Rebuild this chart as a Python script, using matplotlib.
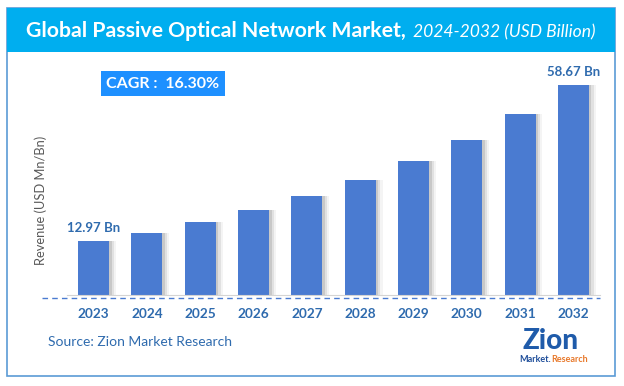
import numpy as np
import matplotlib
matplotlib.use("Agg")
import matplotlib.pyplot as plt
from matplotlib.patches import Rectangle
from matplotlib.lines import Line2D

years = ["2023", "2024", "2025", "2026", "2027", "2028", "2029", "2030", "2031", "2032"]
revenue = [12.97, 15.3, 18.5, 22.0, 26.1, 30.8, 36.4, 42.6, 50.2, 58.67]
labelled = {0: "12.97 Bn", 9: "58.67 Bn"}
cagr_text = "CAGR :  16.30%"

BAR = "#4A7BD1"
TXT = "#2F6BAE"
CYAN = "#00AEEF"
BORDER = "#5B9BD5"
FONT = "Lato"

W, H = 624, 386
fig = plt.figure(figsize=(W / 100, H / 100), dpi=100)


def fx(px):
    return px / W


def fy(py):
    return 1 - py / H


# frame + title band
fig.add_artist(Rectangle((fx(7), fy(376)), fx(608), (376 - 8) / H, transform=fig.transFigure,
                         facecolor="white", edgecolor=BORDER, lw=1.2, zorder=-10))
fig.add_artist(Rectangle((fx(7), fy(52)), fx(608), (52 - 8) / H, transform=fig.transFigure,
                         facecolor=CYAN, edgecolor="none", zorder=-9))
fig.text(fx(406), fy(31), "Global Passive Optical Network Market,", color="white", fontsize=15.3,
         fontweight="bold", family=FONT, ha="right", va="center")
fig.text(fx(413), fy(32), "2024-2032 (USD Billion)", color="white", fontsize=12.6,
         style="italic", family=FONT, ha="left", va="center")

# plot area
ymin, ymax = -2.85, 66.0
ax = fig.add_axes([fx(67), fy(295), fx(600 - 67), (295 - 60) / H])
x = np.arange(len(years))
heights = [v - ymin for v in revenue]
# soft drop shadow to the right of each bar
for off, a in [(0.05, 0.35), (0.09, 0.2), (0.13, 0.1)]:
    ax.bar(x + off, heights, 0.58, bottom=ymin, color="#9a9a9a", alpha=a, lw=0, zorder=1)
ax.bar(x, heights, 0.58, bottom=ymin, color=BAR, zorder=2)
for i, lab in labelled.items():
    ax.annotate(lab, (x[i], revenue[i]), xytext=(0, 5), textcoords="offset points",
                ha="center", va="bottom", color=TXT, fontsize=9.5, fontweight="bold", family=FONT)
ax.set_xlim(-0.5, len(years) - 0.5)
ax.set_ylim(ymin, ymax)
ax.set_xticks(x)
ax.set_xticklabels(years, color=TXT, fontsize=9.8, fontweight="bold", family=FONT)
ax.tick_params(axis="x", length=0, pad=9)
ax.set_yticks([])
for s in ["top", "right", "left"]:
    ax.spines[s].set_visible(False)
ax.spines["bottom"].set_color("#d4d4d4")
ax.patch.set_alpha(0)

fig.add_artist(Line2D([fx(42), fx(600)], [fy(298), fy(298)], transform=fig.transFigure,
                      color=BAR, lw=1, ls=(0, (4, 3))))

fig.text(fx(41), fy(200), "Revenue (USD Mn/Bn)", rotation=90, color="#595959", fontsize=9.3,
         family=FONT, ha="center", va="center")

# CAGR box
fig.text(fx(163), fy(83.5), cagr_text, color="white", fontsize=11.5, fontweight="bold", family=FONT,
         ha="center", va="center",
         bbox=dict(boxstyle="square,pad=0.35", facecolor="#1E90FF", edgecolor="none"))

fig.text(fx(48), fy(342), "Source: Zion Market Research", color=TXT, fontsize=10,
         family=FONT, ha="left", va="center")

# logo
fig.text(fx(551), fy(341), "Zion", color="#1F5BAA", fontsize=20, fontweight="black",
         family=FONT, ha="center", va="center")
fig.text(fx(551), fy(359), "Market.", color="#1F4E9A", fontsize=6.5, fontweight="bold",
         family=FONT, ha="right", va="center")
fig.text(fx(551), fy(359), "Research", color="#E8792B", fontsize=6.5, fontweight="bold",
         family=FONT, ha="left", va="center")

fig.savefig("out.png", dpi=100)
